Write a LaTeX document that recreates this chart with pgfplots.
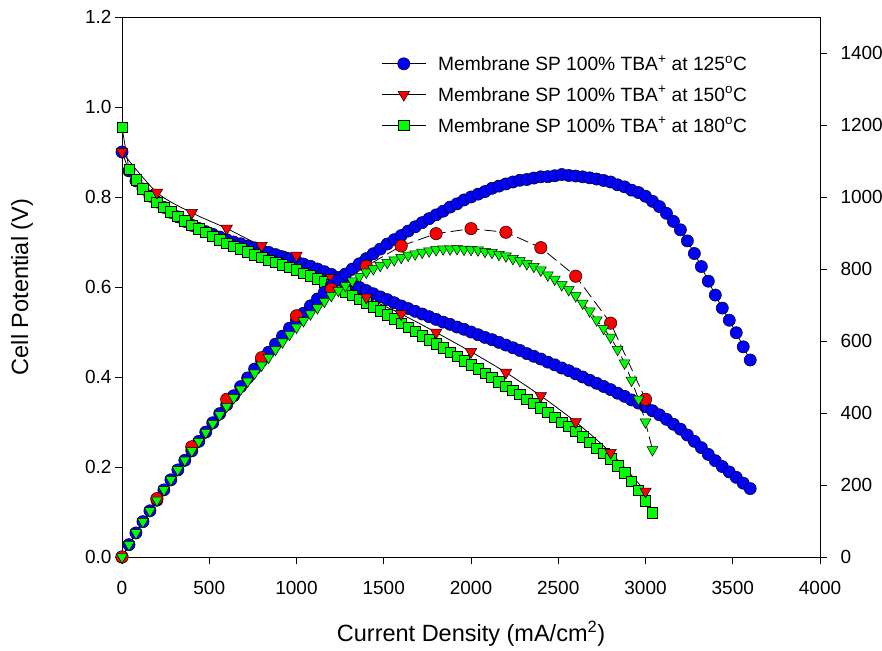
\documentclass[border=0pt]{standalone}
\usepackage{fontspec}
\setmainfont{Liberation Sans}
\usepackage{pgfplots}
\pgfplotsset{compat=1.18}
\definecolor{cblue}{RGB}{0,0,255}
\definecolor{cred}{RGB}{255,0,0}
\definecolor{cgreen}{RGB}{0,255,0}
\pgfplotsset{
  common/.style={
    scale only axis, width=698pt, height=540pt,
    xmin=0, xmax=4000,
    tick align=outside, major tick length=7pt,
    tick style={line width=0.8pt, black},
    axis line style={line width=0.8pt},
    /pgf/number format/assume math mode=true,
    /pgf/number format/1000 sep={},
    tick label style={font=\fontsize{19}{22}\selectfont},
  },
  bcirc/.style={black, line width=0.8pt, mark=*, mark size=6.1pt, mark options={solid, fill=cblue, draw=black, line width=0.5pt}},
  rtri/.style={black, line width=0.8pt, mark=triangle*, mark size=6.6pt, mark options={solid, rotate=180, fill=cred, draw=black, line width=0.5pt}},
  gsq/.style={black, line width=0.8pt, mark=square*, mark size=5.2pt, mark options={solid, fill=cgreen, draw=black, line width=0.5pt}},
  rcirc/.style={black, line width=0.8pt, dash pattern=on 12pt off 5pt, mark=*, mark size=6.2pt, mark options={solid, fill=cred, draw=black, line width=0.5pt}},
  gtri/.style={black, line width=0.8pt, dash pattern=on 12pt off 5pt, mark=triangle*, mark size=6.3pt, mark options={solid, rotate=180, fill=cgreen, draw=black, line width=0.5pt}},
}
\begin{document}
\begin{tikzpicture}
\begin{axis}[common,
  ymin=0, ymax=1.2,
  xtick={0,500,1000,1500,2000,2500,3000,3500,4000},
  ytick={0,0.2,0.4,0.6,0.8,1.0,1.2},
  xtick pos=bottom, ytick pos=left,
  yticklabel style={/pgf/number format/.cd, fixed, fixed zerofill, precision=1},
  xticklabel style={yshift=-14pt},
  xlabel={Current Density (mA/cm\textsuperscript{2})},
  ylabel={Cell Potential (V)},
  label style={font=\fontsize{23.5}{27}\selectfont},
  x label style={at={(axis description cs:0.5,-0.1426)}, anchor=center},
  y label style={at={(axis description cs:-0.1433,0.5)}, anchor=center},
  legend style={at={(0.3713,0.9329)}, anchor=north west, draw=none, fill=none,
    inner sep=0pt, row sep=10pt, font=\fontsize{19.2}{22}\selectfont,
    nodes={inner xsep=5pt, inner ysep=2pt}},
  legend cell align=left,
  legend image code/.code={\draw[mark repeat=2,mark phase=2,#1] plot coordinates {(0pt,0pt) (22pt,0pt) (44pt,0pt)}; \path (51pt,0pt);},
]
\coordinate (sw) at (rel axis cs:0,0);
\coordinate (ne) at (rel axis cs:1,1);
\addlegendimage{bcirc}
\addlegendentry{Membrane SP 100\% TBA\textsuperscript{+} at 125\textsuperscript{o}C}
\addlegendimage{rtri}
\addlegendentry{Membrane SP 100\% TBA\textsuperscript{+} at 150\textsuperscript{o}C}
\addlegendimage{gsq}
\addlegendentry{Membrane SP 100\% TBA\textsuperscript{+} at 180\textsuperscript{o}C}
% 125 C polarization
\addplot[bcirc, forget plot] coordinates {
(0,0.900) (40,0.858) (80,0.836) (120,0.818) (160,0.802) (200,0.789) (240,0.777) (280,0.766) (320,0.756) (360,0.746)
(400,0.737) (440,0.730) (480,0.723) (520,0.717) (560,0.711) (600,0.705) (640,0.700) (680,0.696) (720,0.691) (760,0.687)
(800,0.682) (840,0.677) (880,0.672) (920,0.667) (960,0.662) (1000,0.657) (1040,0.651) (1080,0.646) (1120,0.640) (1160,0.634)
(1200,0.628) (1240,0.621) (1280,0.614) (1320,0.606) (1360,0.599) (1400,0.592) (1440,0.585) (1480,0.578) (1520,0.572) (1560,0.565)
(1600,0.558) (1640,0.552) (1680,0.546) (1720,0.540) (1760,0.534) (1800,0.528) (1840,0.522) (1880,0.517) (1920,0.511) (1960,0.506)
(2000,0.500) (2040,0.494) (2080,0.488) (2120,0.483) (2160,0.477) (2200,0.471) (2240,0.465) (2280,0.459) (2320,0.452) (2360,0.446)
(2400,0.440) (2440,0.433) (2480,0.427) (2520,0.420) (2560,0.414) (2600,0.407) (2640,0.400) (2680,0.393) (2720,0.386) (2760,0.379)
(2800,0.372) (2840,0.364) (2880,0.357) (2920,0.349) (2960,0.342) (3000,0.334) (3040,0.325) (3080,0.316) (3120,0.306) (3160,0.295)
(3200,0.284) (3240,0.271) (3280,0.257) (3320,0.243) (3360,0.228) (3400,0.214) (3440,0.201) (3480,0.189) (3520,0.177) (3560,0.164)
(3600,0.152)};
% 180 C polarization
\addplot[gsq, forget plot] coordinates {
(0,0.955) (40,0.862) (80,0.838) (120,0.818) (160,0.802) (200,0.788) (240,0.777) (280,0.767) (320,0.757) (360,0.747)
(400,0.737) (440,0.729) (480,0.721) (520,0.713) (560,0.705) (600,0.697) (640,0.691) (680,0.685) (720,0.678) (760,0.672)
(800,0.666) (840,0.660) (880,0.655) (920,0.649) (960,0.644) (1000,0.638) (1040,0.631) (1080,0.625) (1120,0.618) (1160,0.612)
(1200,0.605) (1240,0.597) (1280,0.589) (1320,0.581) (1360,0.573) (1400,0.565) (1440,0.556) (1480,0.547) (1520,0.538) (1560,0.529)
(1600,0.520) (1640,0.511) (1680,0.501) (1720,0.492) (1760,0.483) (1800,0.474) (1840,0.465) (1880,0.455) (1920,0.446) (1960,0.436)
(2000,0.427) (2040,0.418) (2080,0.408) (2120,0.399) (2160,0.389) (2200,0.380) (2240,0.370) (2280,0.361) (2320,0.351) (2360,0.342)
(2400,0.332) (2440,0.321) (2480,0.311) (2520,0.300) (2560,0.290) (2600,0.279) (2640,0.267) (2680,0.255) (2720,0.242) (2760,0.230)
(2800,0.218) (2840,0.203) (2880,0.187) (2920,0.168) (2960,0.148) (3000,0.125) (3040,0.098)};
% 150 C polarization
\addplot[rtri, smooth, forget plot] coordinates {
(0,0.900) (200,0.810) (400,0.765) (600,0.730) (800,0.692) (1000,0.670) (1200,0.620) (1400,0.577)
(1600,0.540) (1800,0.499) (2000,0.456) (2200,0.410) (2400,0.358) (2600,0.300) (2800,0.232) (3000,0.146)};
\end{axis}
\begin{axis}[common,
  ymin=0, ymax=1500,
  axis x line=none, axis y line*=right,
  ytick={0,200,400,600,800,1000,1200,1400},
  ytick pos=right,
  yticklabel style={xshift=10pt},
]
% 125 C power density
\addplot[bcirc] coordinates {
(0,0) (40,34.3) (80,66.9) (120,98.2) (160,128.3) (200,157.8) (240,186.5) (280,214.5) (320,241.9) (360,268.6)
(400,294.8) (440,321.2) (480,347.0) (520,372.8) (560,398.2) (600,423.0) (640,448.0) (680,473.3) (720,497.5) (760,522.1)
(800,545.6) (840,568.7) (880,591.4) (920,613.6) (960,635.5) (1000,657.0) (1040,677.0) (1080,697.7) (1120,716.8) (1160,735.4)
(1200,753.6) (1240,770.0) (1280,785.9) (1320,799.9) (1360,814.6) (1400,828.8) (1440,842.4) (1480,855.4) (1520,869.4) (1560,881.4)
(1600,892.8) (1640,905.3) (1680,917.3) (1720,928.8) (1760,939.8) (1800,950.4) (1840,960.5) (1880,972.0) (1920,981.1) (1960,991.8)
(2000,1000.0) (2040,1007.8) (2080,1015.0) (2120,1024.0) (2160,1030.3) (2200,1036.2) (2240,1041.6) (2280,1046.5) (2320,1048.6) (2360,1052.6)
(2400,1056.0) (2440,1056.5) (2480,1059.0) (2520,1062.4) (2560,1059.8) (2600,1058.2) (2640,1056.0) (2680,1053.2) (2720,1049.9) (2760,1046.0)
(2800,1041.6) (2840,1033.8) (2880,1028.2) (2920,1019.1) (2960,1012.3) (3000,1002.0) (3040,988.0) (3080,973.3) (3120,954.7) (3160,932.2)
(3200,908.8) (3240,878.0) (3280,843.0) (3320,806.8) (3360,766.1) (3400,727.6) (3440,691.4) (3480,657.7) (3520,623.0) (3560,583.8)
(3600,547.2)};
% 150 C power density
\addplot[rcirc] coordinates {
(0,0) (200,162) (400,306) (600,438) (800,553.6) (1000,670) (1200,744) (1400,807.8)
(1600,864) (1800,898.2) (2000,912) (2200,902) (2400,859.2) (2600,780) (2800,649.6) (3000,438)};
% 180 C power density
\addplot[gtri] coordinates {
(0,0) (40,34.5) (80,67.0) (120,98.2) (160,128.3) (200,157.6) (240,186.5) (280,214.8) (320,242.2) (360,268.9)
(400,294.8) (440,320.8) (480,346.1) (520,370.8) (560,394.8) (600,418.2) (640,442.2) (680,465.8) (720,488.2) (760,510.7)
(800,532.8) (840,554.4) (880,576.4) (920,597.1) (960,618.2) (1000,638.0) (1040,656.2) (1080,675.0) (1120,692.2) (1160,709.9)
(1200,726.0) (1240,740.3) (1280,753.9) (1320,766.9) (1360,779.3) (1400,791.0) (1440,800.6) (1480,809.6) (1520,817.8) (1560,825.2)
(1600,832.0) (1640,838.0) (1680,841.7) (1720,846.2) (1760,850.1) (1800,853.2) (1840,855.6) (1880,855.4) (1920,856.3) (1960,854.6)
(2000,854.0) (2040,852.7) (2080,848.6) (2120,845.9) (2160,840.2) (2200,836.0) (2240,828.8) (2280,823.1) (2320,814.3) (2360,807.1)
(2400,796.8) (2440,783.2) (2480,771.3) (2520,756.0) (2560,742.4) (2600,725.4) (2640,704.9) (2680,683.4) (2720,658.2) (2760,634.8)
(2800,610.4) (2840,576.5) (2880,538.6) (2920,490.6) (2960,438.1) (3000,375.0) (3040,297.9)};
\end{axis}
\pgfresetboundingbox
\path[use as bounding box] ([xshift=-122pt,yshift=-93pt]sw) rectangle ([xshift=62pt,yshift=17pt]ne);
\end{tikzpicture}
\end{document}
